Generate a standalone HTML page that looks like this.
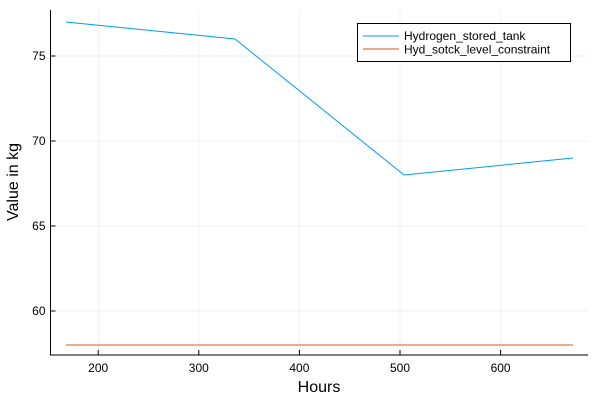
<!DOCTYPE html>
<html><head><meta charset="utf-8"><style>body{margin:0;background:#fff}svg{display:block;font-family:"Liberation Sans",sans-serif}</style></head>
<body>
<svg id="c" width="600" height="400"></svg>
<script>
const hours=[168,336,504,672];
const hydrogenStored=[77,76,68,69];
const constraint=[58,58,58,58];
const xTicks=[200,300,400,500,600];
const yTicks=[60,65,70,75];
const L=50.5,R=588,T=10,B=355;
const xs=v=>98.2+(v-200)*1.006;
const ys=v=>311-(v-60)*17;
const svg=document.getElementById('c');
const NS='http://www.w3.org/2000/svg';
function mk(t,a,p){const e=document.createElementNS(NS,t);for(const k in a)e.setAttribute(k,a[k]);(p||svg).appendChild(e);return e;}
xTicks.forEach(v=>{
 const g=mk('line',{x1:xs(v),x2:xs(v),y1:T,y2:B,stroke:'#000','stroke-opacity':0.1,'stroke-width':0.5});
 
 const tk=mk('line',{x1:xs(v),x2:xs(v),y1:B,y2:B-5,stroke:'#000','stroke-width':1});
 
 const t=mk('text',{x:xs(v),y:B+17,'text-anchor':'middle','font-size':12});t.textContent=v;
 
});
yTicks.forEach(v=>{
 const g=mk('line',{x1:L,x2:R,y1:ys(v),y2:ys(v),stroke:'#000','stroke-opacity':0.1,'stroke-width':0.5});
 
 const tk=mk('line',{x1:L,x2:L+5,y1:ys(v),y2:ys(v),stroke:'#000','stroke-width':1});
 
 const t=mk('text',{x:L-5,y:ys(v)+4,'text-anchor':'end','font-size':12});t.textContent=v;
 
});
const ax=mk('path',{d:`M${L},${T}V${B}H${R}`,fill:'none',stroke:'#000','stroke-width':1});

const s1=mk('polyline',{points:hours.map((h,i)=>xs(h)+','+ys(hydrogenStored[i])).join(' '),fill:'none',stroke:'#009af9','stroke-width':1});

const s2=mk('polyline',{points:hours.map((h,i)=>xs(h)+','+ys(constraint[i])).join(' '),fill:'none',stroke:'#e26f46','stroke-opacity':0.6,'stroke-width':2});

const xt=mk('text',{x:319,y:392,'text-anchor':'middle','font-size':16});xt.textContent='Hours';

const yt=mk('text',{x:18,y:182,'text-anchor':'middle','font-size':16,transform:'rotate(-90 18 182)'});yt.textContent='Value in kg';

const lg=mk('g',{});
mk('rect',{x:357.5,y:23.5,width:213,height:38,fill:'#fff',stroke:'#000','stroke-width':1},lg);
const e1=mk('g',{},lg);
mk('line',{x1:363,x2:399,y1:36,y2:36,stroke:'#009af9','stroke-width':1},e1);
const t1=mk('text',{x:404,y:40,'font-size':12},e1);t1.textContent='Hydrogen_stored_tank';
const e2=mk('g',{},lg);
mk('line',{x1:363,x2:399,y1:49,y2:49,stroke:'#e26f46','stroke-opacity':0.6,'stroke-width':2},e2);
const t2=mk('text',{x:404,y:53.5,'font-size':12},e2);t2.textContent='Hyd_sotck_level_constraint';
</script>
</body></html>
